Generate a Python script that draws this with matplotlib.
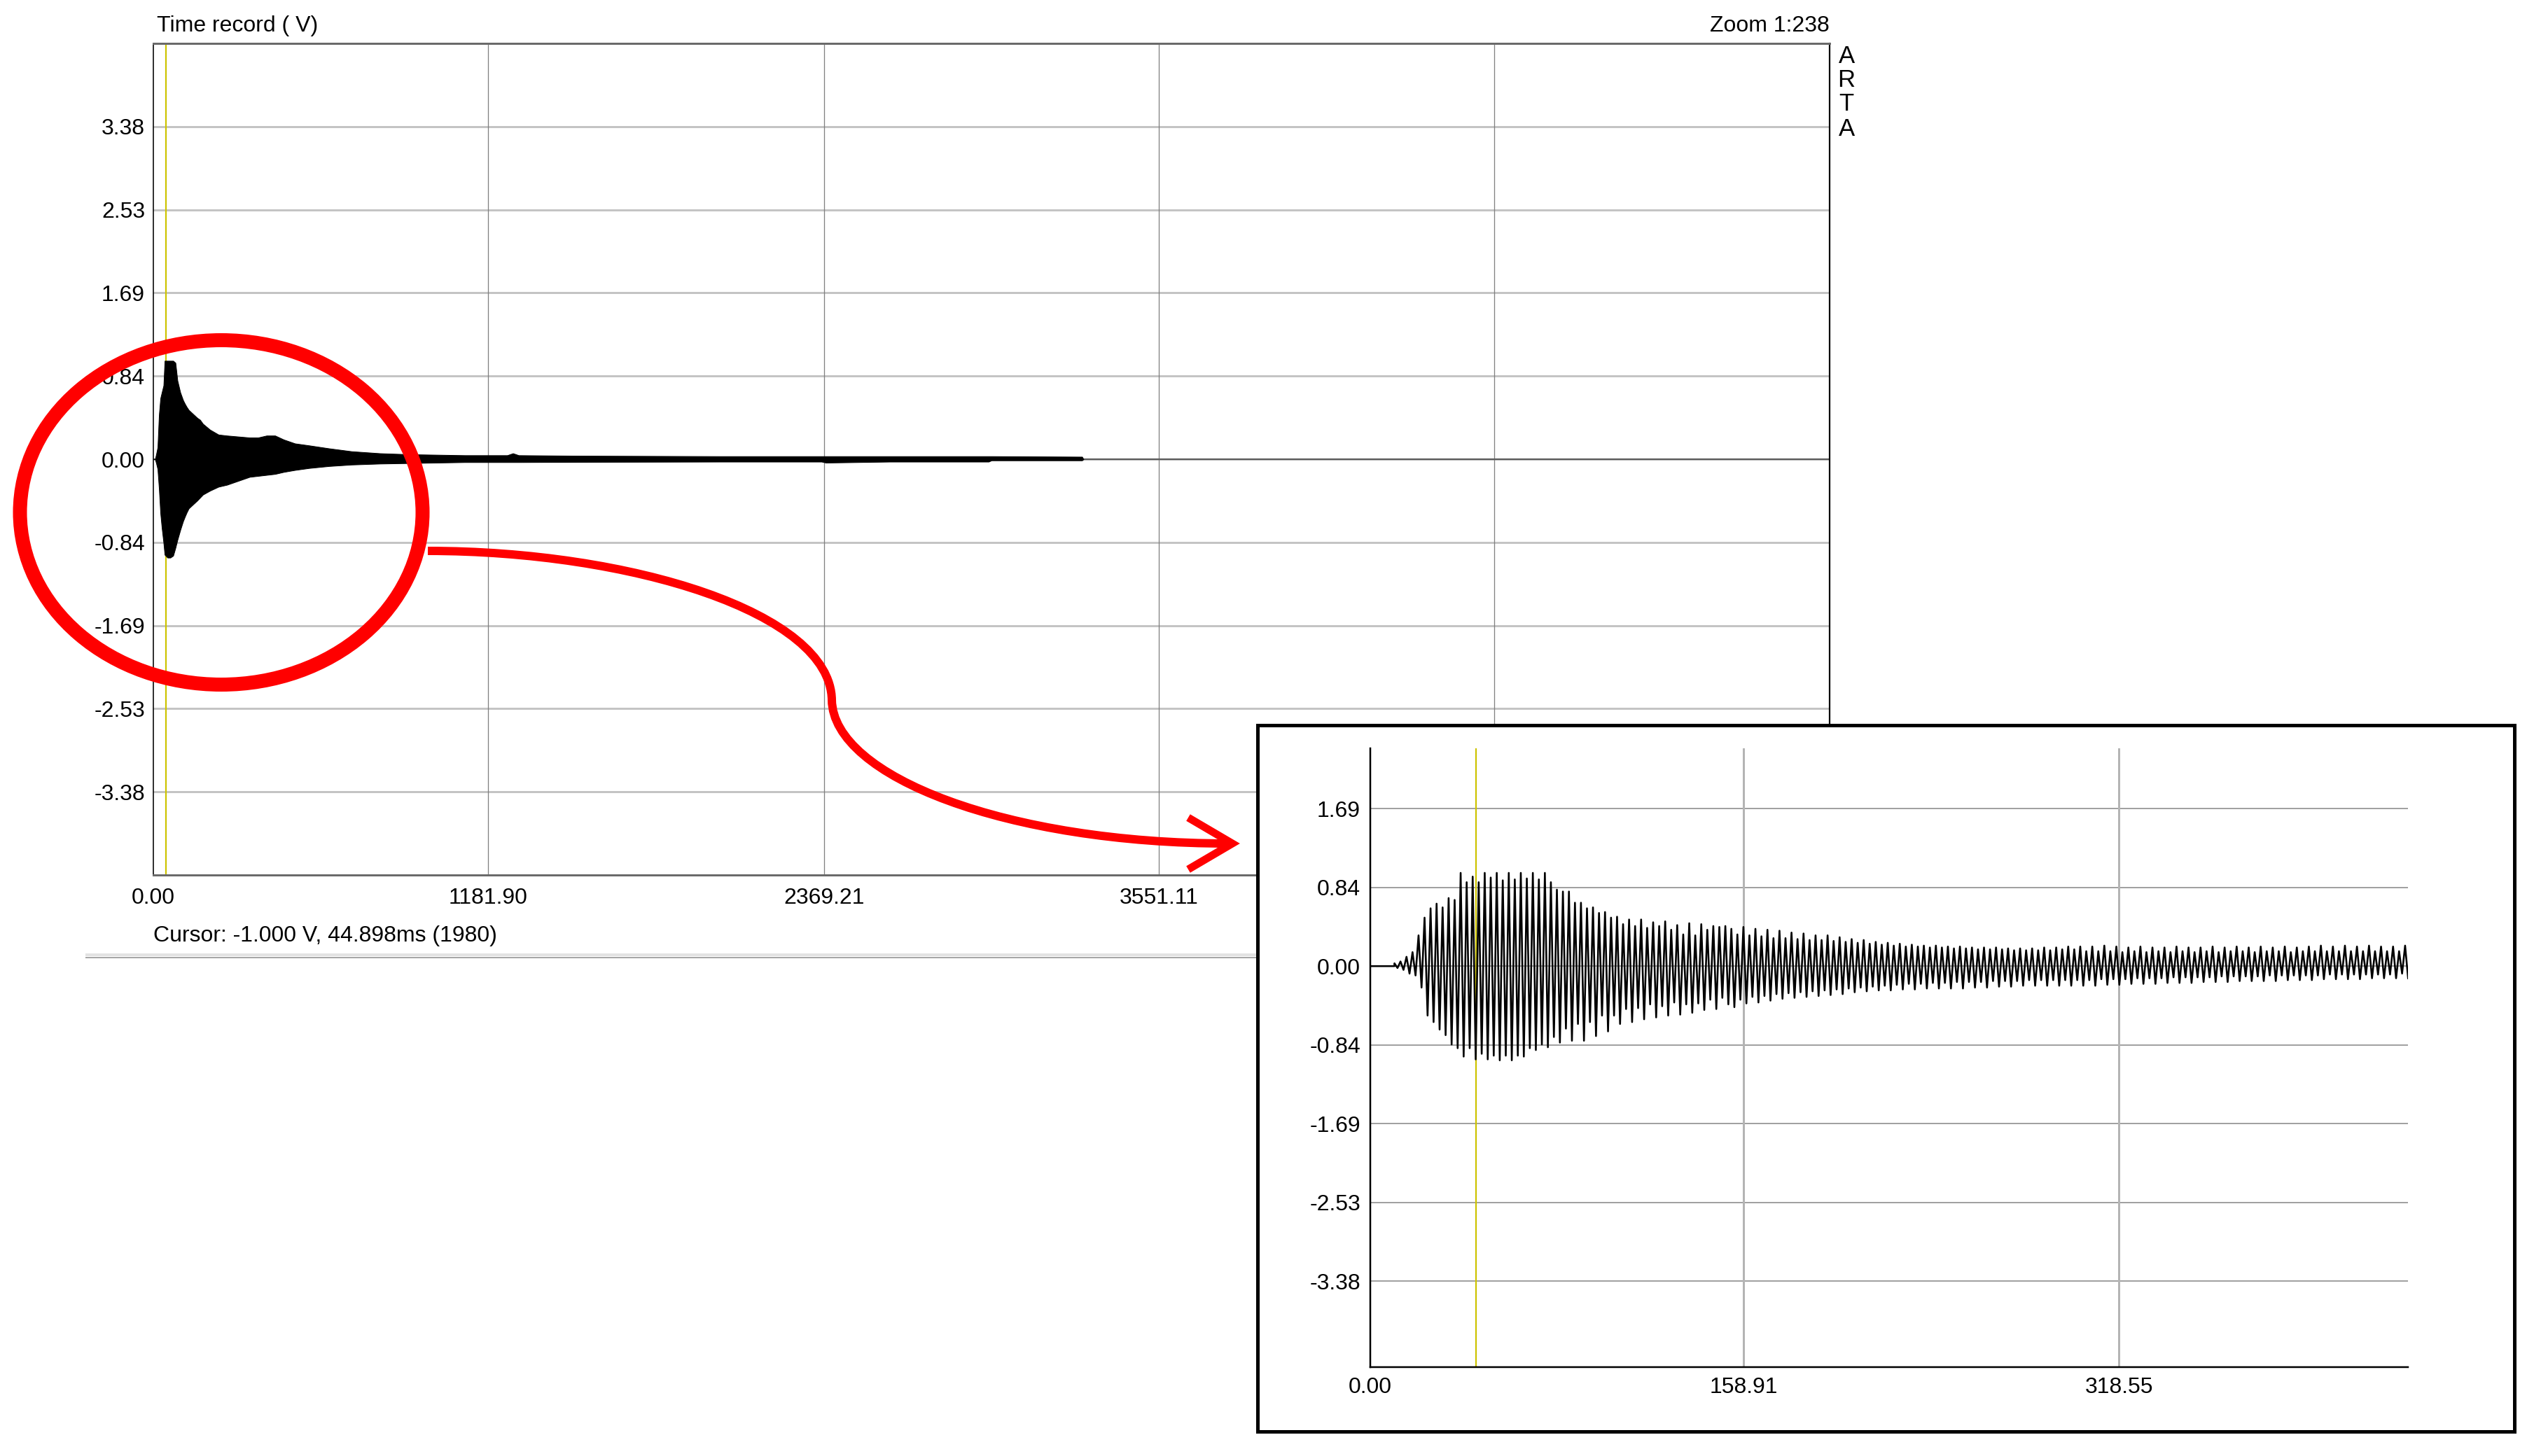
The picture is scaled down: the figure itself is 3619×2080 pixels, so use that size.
import numpy as np
import matplotlib
matplotlib.use("Agg")
import matplotlib.pyplot as plt
from matplotlib.patches import Ellipse, PathPatch
from matplotlib.path import Path

plt.rcParams['font.family'] = ['Liberation Sans', 'DejaVu Sans']

W, H, DPI = 3619, 2080, 100
PT = 72.0 / DPI  # points per pixel

# ---------------- texts ----------------
title_text = "Time record ( V)"
zoom_text = "Zoom 1:238"
brand_letters = ["A", "R", "T", "A"]
cursor_text = "Cursor: -1.000 V, 44.898ms (1980)"
cursor_ms = 44.898

# ---------------- main time record (envelope, ms / V) ----------------
main_t = [0, 6, 10, 15, 20, 25, 30, 36, 40, 50, 60, 70, 78, 85, 95, 105, 112, 118, 125,
          140, 155, 165, 175, 200, 230, 260, 300, 340, 370, 400, 430, 460, 500, 550, 620,
          700, 800, 900, 1000, 1100, 1250, 1270, 1290, 1500, 2000, 2360, 2375, 2600,
          2950, 2960, 3280, 3285]
main_upper = [0, 0, 0.05, 0.12, 0.45, 0.62, 0.68, 0.75, 1.00, 1.00, 1.00, 1.00, 0.98,
              0.80, 0.68, 0.60, 0.56, 0.53, 0.50, 0.46, 0.42, 0.40, 0.36, 0.30, 0.25, 0.24, 0.23,
              0.22, 0.22, 0.24, 0.24, 0.20, 0.16, 0.14, 0.11, 0.08, 0.06, 0.05, 0.045,
              0.04, 0.04, 0.06, 0.04, 0.035, 0.03, 0.03, 0.03, 0.03, 0.03, 0.03, 0.025, 0]
main_lower = [0, 0, -0.04, -0.10, -0.30, -0.55, -0.70, -0.85, -0.97, -1.00, -1.00,
              -0.98, -0.90, -0.82, -0.72, -0.63, -0.58, -0.54, -0.50, -0.46, -0.42, -0.39, -0.36,
              -0.32, -0.28, -0.26, -0.22, -0.18, -0.17, -0.16, -0.15, -0.13, -0.11,
              -0.09, -0.07, -0.055, -0.045, -0.04, -0.035, -0.03, -0.03, -0.03, -0.03,
              -0.028, -0.025, -0.025, -0.035, -0.025, -0.025, -0.012, -0.012, 0]

main_xlim = (0, 5920)
main_ylim = (-4.225, 4.225)
main_xticks = [0.0, 1181.90, 2369.21, 3551.11, 4736.0]
main_xticklabels = ["0.00", "1181.90", "2369.21", "3551.11", ""]
main_yticks = [3.38, 2.535, 1.69, 0.845, 0.0, -0.845, -1.69, -2.535, -3.38]
main_yticklabels = ["3.38", "2.53", "1.69", "0.84", "0.00", "-0.84", "-1.69", "-2.53", "-3.38"]

# ---------------- zoomed record (one positive / negative peak per cycle) ----------------
inset_t0 = 10.3        # ms, first cycle
inset_period = 2.56    # ms per cycle
inset_upper = [
    0.03, 0.05, 0.10, 0.15, 0.33, 0.52, 0.62, 0.67, 0.63, 0.73, 0.71,
    1.00, 0.90, 0.96, 0.90, 1.00, 0.95, 1.00, 0.92, 1.00, 0.93, 1.00, 0.94, 1.00, 0.93, 1.00, 0.90, 0.82,
    0.80, 0.80, 0.68, 0.68, 0.62, 0.63, 0.57, 0.58, 0.52, 0.53, 0.45, 0.50, 0.43, 0.50, 0.41, 0.47,
    0.43, 0.48, 0.39, 0.44, 0.34, 0.46, 0.33, 0.45, 0.39, 0.43, 0.42, 0.43,
    0.40, 0.34, 0.42, 0.33, 0.40, 0.32, 0.39, 0.30, 0.38, 0.30,
    0.36, 0.29, 0.35, 0.28, 0.33, 0.28, 0.33, 0.27, 0.31, 0.26,
    0.29, 0.25, 0.28, 0.24, 0.26, 0.23, 0.25, 0.22, 0.24, 0.21,
    0.23, 0.21, 0.22, 0.20, 0.22, 0.20, 0.21, 0.19, 0.21, 0.19,
    0.20, 0.18, 0.20, 0.18, 0.20, 0.18, 0.19, 0.17, 0.19, 0.17,
    0.19, 0.17, 0.20, 0.17, 0.20, 0.18, 0.21, 0.18,
    0.21, 0.16, 0.21, 0.16, 0.22, 0.16, 0.21, 0.15, 0.20, 0.16,
    0.21, 0.15, 0.20, 0.16, 0.20, 0.15, 0.21, 0.16, 0.20, 0.15,
    0.20, 0.16, 0.21, 0.15, 0.20, 0.16, 0.21, 0.16, 0.20, 0.15,
    0.21, 0.16, 0.20, 0.16, 0.21, 0.15, 0.20, 0.16, 0.21, 0.16,
    0.22, 0.16, 0.21, 0.16, 0.22, 0.16, 0.21, 0.16, 0.22, 0.16,
    0.21, 0.16, 0.21, 0.16, 0.22,
]
inset_lower = [
    -0.02, -0.04, -0.08, -0.10, -0.23, -0.53, -0.60, -0.68, -0.74, -0.84, -0.88,
    -0.97, -0.88, -1.00, -0.94, -1.00, -0.96, -1.01, -0.96, -1.01, -0.96, -0.97, -0.88, -0.90, -0.84, -0.87, -0.76, -0.82,
    -0.67, -0.80, -0.62, -0.80, -0.60, -0.75, -0.53, -0.70, -0.53, -0.62, -0.46, -0.60, -0.45, -0.57,
    -0.41, -0.55, -0.43, -0.53, -0.39, -0.52, -0.41, -0.50, -0.40, -0.47, -0.36, -0.46, -0.34, -0.41,
    -0.44, -0.36, -0.40, -0.33, -0.39, -0.32, -0.37, -0.30, -0.35, -0.29,
    -0.34, -0.28, -0.33, -0.27, -0.32, -0.26, -0.31, -0.25, -0.30, -0.24,
    -0.28, -0.23, -0.27, -0.22, -0.26, -0.21, -0.26, -0.20, -0.25, -0.19,
    -0.25, -0.19, -0.24, -0.18, -0.24, -0.18, -0.24, -0.17, -0.24, -0.17,
    -0.23, -0.17, -0.23, -0.16, -0.22, -0.16, -0.22, -0.16, -0.21, -0.15,
    -0.21, -0.15, -0.21, -0.15, -0.21, -0.15, -0.21, -0.15,
    -0.21, -0.15, -0.21, -0.14, -0.20, -0.14, -0.20, -0.14, -0.19, -0.13,
    -0.19, -0.13, -0.19, -0.13, -0.18, -0.12, -0.18, -0.12, -0.18, -0.12,
    -0.17, -0.12, -0.17, -0.11, -0.17, -0.11, -0.16, -0.11, -0.16, -0.11,
    -0.16, -0.10, -0.16, -0.10, -0.15, -0.10, -0.15, -0.10, -0.15, -0.10,
    -0.14, -0.09, -0.14, -0.09, -0.14, -0.09, -0.14, -0.09, -0.13, -0.09,
    -0.13, -0.09, -0.13, -0.08, -0.13,
]
inset_xlim = (0, 441.6)
inset_ylim = (-4.30, 2.336)
inset_xticks = [0.0, 158.91, 318.55]
inset_xticklabels = ["0.00", "158.91", "318.55"]
inset_yticks = [1.69, 0.845, 0.0, -0.845, -1.69, -2.535, -3.38]
inset_yticklabels = ["1.69", "0.84", "0.00", "-0.84", "-1.69", "-2.53", "-3.38"]

# ---------------- colours ----------------
C_CURSOR = "#cdc400"
C_HGRID = "#c4c4c4"
C_VGRID = "#808080"
C_RED = "#ff0000"
FS = 23


def rect(l, t, r, b):
    return [l / W, 1 - b / H, (r - l) / W, (b - t) / H]


fig = plt.figure(figsize=(W / DPI, H / DPI), dpi=DPI)
fig.patch.set_facecolor("white")

# ================= main chart =================
ax = fig.add_axes(rect(219, 62, 2613, 1250), zorder=1)
ax.set_xlim(*main_xlim)
ax.set_ylim(*main_ylim)
for y in main_yticks:
    ax.axhline(y, color=C_HGRID, lw=3 * PT, zorder=0.5)
ax.axhline(0.0, color="#5c5c5c", lw=2.2 * PT, zorder=0.6)
for x in main_xticks[1:]:
    ax.axvline(x, color=C_VGRID, lw=1.3 * PT, zorder=0.5)
ax.axvline(cursor_ms, color=C_CURSOR, lw=2.2 * PT, zorder=0.8)
ax.fill_between(main_t, main_lower, main_upper, color="black", lw=1.0 * PT, zorder=2)

ax.set_xticks(main_xticks)
ax.set_xticklabels(main_xticklabels)
ax.set_yticks(main_yticks)
ax.set_yticklabels(main_yticklabels)
ax.tick_params(axis="both", length=0, labelsize=FS)
ax.tick_params(axis="x", pad=13)
ax.tick_params(axis="y", pad=8.6)
ax.spines["top"].set_color("#6a6a6a")
ax.spines["top"].set_linewidth(3 * PT)
ax.spines["bottom"].set_color("#6a6a6a")
ax.spines["bottom"].set_linewidth(3 * PT)
ax.spines["left"].set_color("black")
ax.spines["left"].set_linewidth(1.6 * PT)
ax.spines["right"].set_color("black")
ax.spines["right"].set_linewidth(2.2 * PT)

# ================= overlay (texts, annotation) =================
ov = fig.add_axes([0, 0, 1, 1], zorder=2)
ov.set_xlim(0, W)
ov.set_ylim(H, 0)
ov.set_facecolor("none")
ov.axis("off")

ov.text(224, 37, title_text, ha="left", va="center", fontsize=FS)
ov.text(2613, 37, zoom_text, ha="right", va="center", fontsize=FS)
for y, letter in zip([80, 114, 149, 184], brand_letters):
    ov.text(2637, y, letter, ha="center", va="center", fontsize=25)
ov.text(219, 1337, cursor_text, ha="left", va="center", fontsize=FS)

ov.plot([122, 1796], [1363.5, 1363.5], color="#e2e2e2", lw=4 * PT, solid_capstyle="butt")
ov.plot([122, 1796], [1367.5, 1367.5], color="#a6a6a6", lw=2 * PT, solid_capstyle="butt")

ov.add_patch(Ellipse((316, 732), 575, 492, fill=False, ec=C_RED, lw=20 * PT))
verts = [(611, 787), (900, 787), (1186, 875), (1188, 1000),
         (1190, 1110), (1440, 1205), (1755, 1205)]
codes = [Path.MOVETO, Path.CURVE4, Path.CURVE4, Path.CURVE4,
         Path.CURVE4, Path.CURVE4, Path.CURVE4]
ov.add_patch(PathPatch(Path(verts, codes), fill=False, ec=C_RED, lw=12 * PT, capstyle="butt"))
ov.plot([1697, 1760, 1697], [1168, 1205, 1242], color=C_RED, lw=11 * PT,
        solid_joinstyle="miter", solid_capstyle="butt")

# ================= inset frame =================
fr = fig.add_axes(rect(1796, 1036, 3591, 2045), zorder=3)
fr.set_facecolor("white")
fr.set_xticks([])
fr.set_yticks([])
for s in fr.spines.values():
    s.set_color("black")
    s.set_linewidth(5 * PT)

# ================= inset chart =================
ai = fig.add_axes(rect(1957, 1069, 3439, 1953), zorder=4)
ai.set_facecolor("none")
ai.set_xlim(*inset_xlim)
ai.set_ylim(*inset_ylim)
for y in inset_yticks:
    ai.axhline(y, color="#8a8a8a", lw=1.6 * PT, zorder=0.5)
for x in inset_xticks[1:]:
    ai.axvline(x, color="#b4b4b4", lw=3 * PT, zorder=0.5)
ai.axvline(cursor_ms, color=C_CURSOR, lw=2.2 * PT, zorder=0.8)

n = min(len(inset_upper), len(inset_lower))
xs = [0.0, inset_t0]
ys = [0.0, 0.0]
for k in range(n):
    tk = inset_t0 + k * inset_period
    xs += [tk, tk + inset_period / 2]
    ys += [inset_upper[k], inset_lower[k]]
ai.plot(xs, ys, color="black", lw=2.6 * PT, zorder=2)

ai.set_xticks(inset_xticks)
ai.set_xticklabels(inset_xticklabels)
ai.set_yticks(inset_yticks)
ai.set_yticklabels(inset_yticklabels)
ai.tick_params(axis="both", length=0, labelsize=FS)
ai.tick_params(axis="x", pad=10)
ai.tick_params(axis="y", pad=10)
ai.spines["top"].set_visible(False)
ai.spines["right"].set_visible(False)
ai.spines["left"].set_color("black")
ai.spines["left"].set_linewidth(2.5 * PT)
ai.spines["bottom"].set_color("black")
ai.spines["bottom"].set_linewidth(2.5 * PT)

fig.savefig("out.png", dpi=DPI, facecolor="white")
